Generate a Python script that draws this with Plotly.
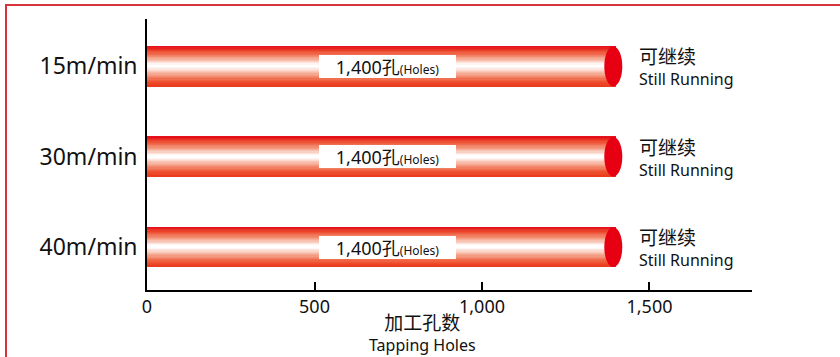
import plotly.graph_objects as go
from plotly.colors import sample_colorscale

# ---- data ----
categories = ["15m/min", "30m/min", "40m/min"]
holes = [1400, 1400, 1400]
value_labels = ["1,400孔", "1,400孔", "1,400孔"]
value_suffix = "(Holes)"
status_cn = ["可继续", "可继续", "可继续"]
status_en = ["Still Running", "Still Running", "Still Running"]
x_tickvals = [0, 500, 1000, 1500]
x_ticktext = ["0", "500", "1,000", "1,500"]
x_title_cn = "加工孔数"
x_title_en = "Tapping Holes"

# ---- layout constants ----
W, H = 840, 357
L, R, T, B = 147, 88, 19, 67
PW, PH = W - L - R, H - T - B
XR = [0, 1806]
YR = [2.475, -0.525]
BAR_W = 0.44
N = 32
SCALE = PW / (XR[1] - XR[0])
FONT = "Noto Sans, Noto Sans CJK SC, sans-serif"


def pxx(px):
    return (px - L) / PW


def pxy(py):
    return 1 - (py - T) / PH


grad = [[0.0, "#e4101a"], [0.10, "#ec4329"], [0.28, "#f4977b"], [0.47, "#ffffff"],
        [0.53, "#ffffff"], [0.72, "#f5a48c"], [0.90, "#ef5433"], [1.0, "#ea3d20"]]
cols = sample_colorscale(grad, [i / (N - 1) for i in range(N)])

fig = go.Figure()
sw = BAR_W / N
for i in range(N):
    fig.add_trace(go.Bar(
        orientation="h", y=categories, x=holes,
        width=[sw * 1.05] * len(categories),
        offset=[-BAR_W / 2 + i * sw] * len(categories),
        marker=dict(color=cols[i], line=dict(width=0)),
        showlegend=False, hoverinfo="skip",
    ))

shapes = []
annotations = []
rx = 9 / SCALE
for i, (c, v) in enumerate(zip(categories, holes)):
    shapes.append(dict(type="circle", xref="x", yref="y", x0=v - rx * 1.3, x1=v + rx * 0.7,
                       y0=i - BAR_W / 2, y1=i + BAR_W / 2,
                       fillcolor="#e60012", line=dict(width=0), layer="above"))
    annotations.append(dict(
        x=v / 2, y=c, xref="x", yref="y", xshift=6, showarrow=False,
        text=f"{value_labels[i]}<span style='font-size:12px'>{value_suffix}</span>",
        font=dict(family=FONT, size=18, color="#111111"),
        bgcolor="white", width=137, height=23, borderpad=0, borderwidth=0,
        xanchor="center", yanchor="middle"))
    annotations.append(dict(
        x=v, y=c, xref="x", yref="y", xshift=21, yshift=-1, showarrow=False,
        text=f"<span style='font-size:19px'>{status_cn[i]}</span><br>{status_en[i]}",
        font=dict(family=FONT, size=16, color="#111111"), align="left",
        xanchor="left", yanchor="middle"))

annotations.append(dict(x=pxx(422), y=pxy(333), xref="paper", yref="paper", showarrow=False,
                        text=(f"<span style='font-size:19px'>{x_title_cn}</span><br>"
                              f"{x_title_en}"),
                        font=dict(family=FONT, size=16, color="#111111"), align="center",
                        xanchor="center", yanchor="middle"))

# red frame (top and left)
shapes.append(dict(type="line", xref="paper", yref="paper", x0=pxx(5), x1=pxx(W + 5),
                   y0=pxy(5), y1=pxy(5), line=dict(color="#d8323c", width=2)))
shapes.append(dict(type="line", xref="paper", yref="paper", x0=pxx(6), x1=pxx(6),
                   y0=pxy(4), y1=pxy(H + 5), line=dict(color="#d8323c", width=2)))

fig.update_layout(
    width=W, height=H, margin=dict(l=L, r=R, t=T, b=B, pad=0),
    paper_bgcolor="white", plot_bgcolor="white", barmode="overlay",
    shapes=shapes, annotations=annotations,
    xaxis=dict(range=XR, tickvals=x_tickvals, ticktext=x_ticktext,
               ticks="inside", ticklen=8, tickwidth=1.5, tickcolor="black",
               showline=True, linecolor="black", linewidth=1.6, showgrid=False,
               zeroline=False, tickfont=dict(family=FONT, size=18, color="#111111"),
               fixedrange=True),
    yaxis=dict(type="category", categoryorder="array", categoryarray=categories,
               range=YR, showline=True, linecolor="black", linewidth=1.6,
               showgrid=False, zeroline=False, ticks="",
               tickfont=dict(family=FONT, size=23, color="#111111"),
               ticklabelstandoff=3),
)

fig.write_html("out.html")
